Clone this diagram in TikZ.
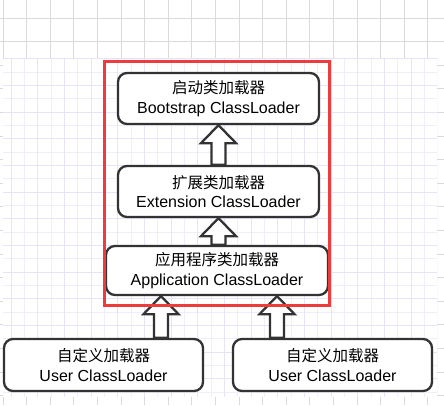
\documentclass[tikz,border=0pt]{standalone}
\usepackage{fontspec}
\setmainfont{Liberation Sans}
\newfontfamily\cjk{Noto Sans CJK SC}
\usetikzlibrary{calc}
\definecolor{gridgrey}{HTML}{DADADA}
\definecolor{gridlav}{HTML}{F1EDFC}
\definecolor{gridlavmaj}{HTML}{E9E3FA}
\definecolor{boxline}{HTML}{333333}
\definecolor{redframe}{HTML}{EE3B3B}
\tikzset{
  loader/.style={draw=boxline, line width=2.3pt, fill=white, rounded corners=9pt,
    align=center, inner sep=0pt, font=\fontsize{16}{19.5}\selectfont},
  blockarrow/.style={draw=boxline, line width=2.3pt, fill=white, line join=miter},
}
\newcommand{\cn}[1]{{\cjk\fontsize{15.5}{19.5}\selectfont #1}}
% #1 = bottom point, #2 = tip point
\newcommand{\uparrowblock}[2]{%
  \draw[blockarrow] let \p1=(#1), \p2=(#2) in
    (\x2,\y2) -- (\x2+17.5pt,\y2-18pt) -- (\x2+7pt,\y2-18pt) -- (\x2+7pt,\y1)
    -- (\x2-7pt,\y1) -- (\x2-7pt,\y2-18pt) -- (\x2-17.5pt,\y2-18pt) -- cycle;}
\begin{document}
\begin{tikzpicture}[x=1pt,y=-1pt]
\useasboundingbox (0,0) rectangle (444,405);
% background canvas
\fill[white] (0,0) rectangle (444,405);
\foreach \i in {0,...,18} \draw[gridgrey, line width=0.9pt] (3+23.6*\i,0) -- (3+23.6*\i,405);
\foreach \j in {0,...,16} \draw[gridgrey, line width=0.9pt] (0,18+23.6*\j) -- (444,18+23.6*\j);
% lavender grid panel
\fill[white] (3,58) rectangle (437,397);
\begin{scope}
\clip (3,58) rectangle (437,397);
\foreach \i in {0,...,33} \draw[gridlav, line width=0.8pt] (11+13.33*\i,58) -- (11+13.33*\i,397);
\foreach \j in {0,...,26} \draw[gridlav, line width=0.8pt] (3,58.7+13.33*\j) -- (437,58.7+13.33*\j);
\foreach \i in {0,...,16} \draw[gridlavmaj, line width=0.9pt] (11+26.67*\i,58) -- (11+26.67*\i,397);
\foreach \j in {0,...,13} \draw[gridlavmaj, line width=0.9pt] (3,58.7+26.67*\j) -- (437,58.7+26.67*\j);
\end{scope}
% loaders
\node[loader, minimum width=201pt, minimum height=51pt] (boot) at (218.5,98.5)
  {\cn{启动类加载器}\\Bootstrap ClassLoader};
\node[loader, minimum width=201pt, minimum height=51pt] (ext) at (218.5,191.5)
  {\cn{扩展类加载器}\\Extension ClassLoader};
\node[loader, minimum width=222pt, minimum height=49pt] (app) at (217,270.5)
  {\cn{应用程序类加载器}\\Application ClassLoader};
\node[loader, minimum width=199pt, minimum height=52pt] (userL) at (103.5,365)
  {\cn{自定义加载器}\\User ClassLoader};
\node[loader, minimum width=199pt, minimum height=52pt] (userR) at (332.5,365)
  {\cn{自定义加载器}\\User ClassLoader};
% inheritance arrows
\coordinate (axL) at (161,0);
\coordinate (axR) at (277,0);
\uparrowblock{ext.north}{boot.south}
\uparrowblock{app.north}{ext.south}
\uparrowblock{axL |- userL.north}{axL |- app.south}
\uparrowblock{axR |- userR.north}{axR |- app.south}
% red highlight frame
\draw[redframe, line width=3pt] (104.5,61.5) rectangle (329.5,305.5);
\end{tikzpicture}
\end{document}
